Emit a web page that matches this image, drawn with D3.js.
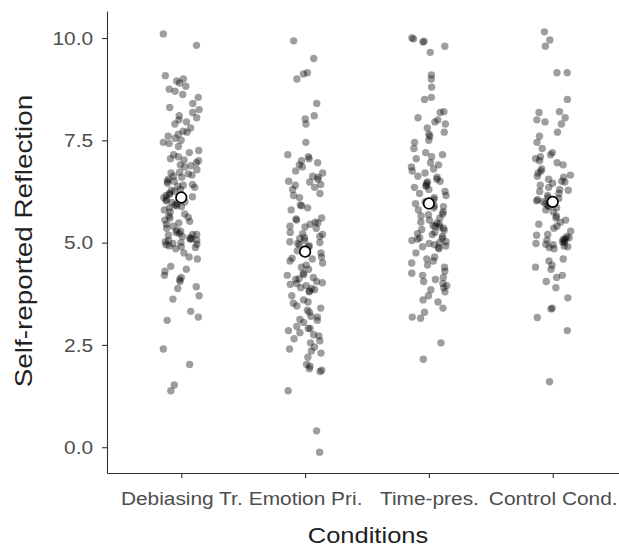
<!DOCTYPE html>
<html>
<head>
<meta charset="utf-8">
<script src="https://cdn.jsdelivr.net/npm/d3@7"></script>
<style>
  body { margin: 0; background: #fff; }
  text { font-family: "Liberation Sans", Arial, sans-serif; }
</style>
</head>
<body>
<div id="chart"></div>
<script>
var conditions = ["Debiasing Tr.", "Emotion Pri.", "Time-pres.", "Control Cond."];

var debiasing = [10.1, 9.82, 9.08, 9.0, 8.95, 8.9, 8.82, 8.75, 8.7, 8.62, 8.55, 8.4, 8.3, 8.25, 8.18, 8.1, 8.05,
  8.0, 7.95, 7.9, 7.8, 7.72, 7.7, 7.65, 7.6, 7.55, 7.5, 7.45, 7.42, 7.35, 7.25, 7.2, 7.15, 7.1, 7.05, 7.02,
  7.0, 6.95, 6.9, 6.88, 6.85, 6.78, 6.72, 6.7, 6.68, 6.65, 6.62, 6.6, 6.55, 6.5, 6.5, 6.45, 6.42, 6.4, 6.38,
  6.35, 6.3, 6.28, 6.25, 6.2, 6.18, 6.15, 6.12, 6.1, 6.05, 6.02, 6.0, 5.98, 5.95, 5.92, 5.9, 5.88, 5.85, 5.8,
  5.75, 5.7, 5.65, 5.62, 5.6, 5.55, 5.52, 5.48, 5.45, 5.4, 5.35, 5.3, 5.28, 5.25, 5.22, 5.2, 5.2, 5.18, 5.15,
  5.12, 5.1, 5.08, 5.06, 5.05, 5.02, 5.0, 4.98, 4.96, 4.95, 4.92, 4.9, 4.88, 4.85, 4.75, 4.65, 4.6, 4.42,
  4.35, 4.3, 4.2, 4.15, 4.1, 4.05, 3.92, 3.88, 3.7, 3.62, 3.32, 3.18, 3.1, 2.4, 2.02, 1.52, 1.38];

var emotion = [9.93, 9.5, 9.15, 9.12, 9.0, 8.4, 8.1, 8.02, 7.9, 7.45, 7.15, 7.1, 7.05, 7.0, 6.95, 6.9, 6.85,
  6.75, 6.7, 6.62, 6.6, 6.55, 6.5, 6.48, 6.42, 6.4, 6.35, 6.3, 6.2, 6.15, 6.1, 3.35, 5.92, 5.9, 5.85, 5.8,
  2.9, 5.6, 5.58, 5.55, 5.5, 5.48, 5.45, 5.4, 5.38, 5.35, 2.75, 5.25, 5.22, 5.2, 5.15, 5.12, 5.1, 5.05, 5.02,
  5.0, 4.98, 4.95, 4.92, 4.9, 4.85, 4.8, 4.75, 4.65, 4.62, 4.6, 4.55, 4.5, 4.45, 4.4, 4.35, 4.25, 4.22, 4.2,
  4.15, 4.12, 4.1, 4.05, 4.02, 4.0, 3.98, 3.95, 3.9, 3.88, 3.85, 3.82, 3.8, 3.7, 3.6, 3.55, 3.52, 3.45, 3.4,
  3.3, 3.2, 3.18, 3.12, 3.1, 3.05, 2.95, 2.9, 2.85, 2.8, 2.72, 2.65, 2.6, 2.55, 2.45, 2.4, 2.35, 2.3, 2.2,
  2.02, 1.98, 1.92, 1.88, 1.85, 1.38, 0.4, -0.12];

var timePres = [10.0, 9.98, 9.92, 9.9, 9.8, 9.65, 9.1, 9.0, 8.8, 8.55, 8.5, 8.2, 8.18, 8.05, 8.0, 7.95, 7.9,
  7.8, 7.7, 7.65, 7.6, 7.5, 7.45, 7.3, 7.2, 7.15, 7.1, 7.05, 6.95, 6.9, 6.85, 6.8, 6.75, 6.7, 6.62, 6.6, 6.55,
  6.5, 6.48, 6.45, 6.4, 6.38, 6.35, 6.3, 3.7, 6.25, 6.2, 6.15, 6.1, 3.55, 6.05, 6.0, 5.98, 5.95, 3.3, 5.9,
  5.88, 5.85, 5.8, 4.15, 5.75, 5.7, 5.68, 5.65, 5.6, 4.1, 5.55, 5.5, 5.48, 5.45, 5.42, 5.4, 5.38, 5.35, 5.32,
  5.3, 5.25, 5.22, 5.2, 5.15, 5.12, 5.1, 5.08, 5.05, 5.02, 5.0, 4.98, 4.95, 4.92, 4.9, 4.88, 4.85, 4.75, 4.65,
  4.6, 4.55, 4.5, 4.45, 4.4, 4.3, 4.25, 4.2, 4.05, 4.0, 3.95, 3.9, 3.85, 3.8, 3.6, 3.4, 3.18, 3.15, 2.55, 2.15];

var control = [10.15, 9.95, 9.8, 9.15, 9.15, 8.5, 8.2, 8.18, 8.05, 8.0, 7.95, 7.9, 7.7, 7.6, 7.45, 7.3, 7.2,
  7.15, 7.1, 7.05, 7.0, 6.95, 6.9, 6.8, 6.75, 6.7, 6.65, 6.62, 6.6, 6.55, 6.5, 6.48, 6.45, 6.4, 6.35, 6.3,
  6.28, 6.25, 6.2, 6.15, 6.1, 6.08, 6.05, 6.02, 6.0, 5.98, 5.95, 5.9, 5.88, 5.85, 5.8, 5.75, 5.65, 5.6, 5.55,
  5.5, 5.45, 5.4, 5.35, 5.28, 5.2, 5.18, 5.15, 5.12, 5.1, 5.08, 5.06, 5.05, 5.02, 5.0, 4.98, 4.96, 4.95, 4.92,
  4.9, 4.88, 4.85, 4.6, 4.55, 4.45, 4.4, 4.35, 4.2, 4.15, 4.05, 3.9, 3.65, 3.4, 3.38, 3.17, 2.85, 1.6];

var groups = [debiasing, emotion, timePres, control];
var yTicks = [0, 2.5, 5, 7.5, 10];

var width = 619, height = 549;
var plotLeft = 107, plotTop = 11, plotBottom = 473;
var stretch = "scale(1.16,1)"; // the reference text is drawn a bit wide

var svg = d3.select("#chart").append("svg")
    .attr("width", width)
    .attr("height", height);

var x = d3.scalePoint()
    .domain(conditions)
    .range([plotLeft, 627])
    .padding(0.6);

var y = d3.scaleLinear()
    .domain([-0.63, 10.66])
    .range([plotBottom, plotTop]);

// horizontal jitter, a fixed hash of the point index so the picture is stable
function jitter(i, g) {
  var s = Math.sin(i * 12.9898 + g * 78.233) * 43758.5453;
  return s - Math.floor(s) - 0.5;
}

var points = [];
groups.forEach(function(vals, g) {
  vals.forEach(function(v, i) {
    points.push({cond: conditions[g], value: v, jit: jitter(i, g)});
  });
});

svg.append("g").selectAll("circle")
    .data(points)
  .enter().append("circle")
    .attr("cx", function(d) { return x(d.cond) + d.jit * 36; })
    .attr("cy", function(d) { return y(d.value); })
    .attr("r", 3.7)
    .style("fill", "#000")
    .style("fill-opacity", 0.38);

// group means
svg.append("g").selectAll("circle")
    .data(groups)
  .enter().append("circle")
    .attr("cx", function(d, i) { return x(conditions[i]); })
    .attr("cy", function(d) { return y(d3.mean(d)); })
    .attr("r", 5.3)
    .style("fill", "#fff")
    .style("stroke", "#000")
    .style("stroke-width", 1.7);

// axes
var yAxis = svg.append("g")
    .attr("transform", "translate(" + plotLeft + ",0)")
    .call(d3.axisLeft(y).tickValues(yTicks).tickFormat(d3.format(".1f")).tickSize(5).tickSizeOuter(0));
var xAxis = svg.append("g")
    .attr("transform", "translate(0," + plotBottom + ")")
    .call(d3.axisBottom(x).tickSize(5).tickSizeOuter(0));

[yAxis, xAxis].forEach(function(a) {
  a.select(".domain").attr("stroke", "#333").attr("stroke-width", 1.1);
  a.selectAll(".tick line").attr("stroke", "#333").attr("stroke-width", 1.1);
  a.selectAll(".tick text").attr("fill", "#4d4d4d").style("font-size", "18px")
    .style("font-family", "'Liberation Sans', Arial, sans-serif")
    .attr("transform", stretch);
});
yAxis.selectAll(".tick text").attr("x", -12).attr("dy", "0.35em");
xAxis.selectAll(".tick text").attr("y", 19).attr("dy", "0.71em");

svg.append("g")
    .attr("transform", "translate(368,543)")
  .append("text")
    .attr("transform", stretch)
    .attr("text-anchor", "middle")
    .style("font-size", "22px")
    .style("fill", "#222")
    .text("Conditions");

svg.append("g")
    .attr("transform", "translate(32,241)")
  .append("text")
    .attr("transform", "rotate(-90) " + stretch)
    .attr("text-anchor", "middle")
    .style("font-size", "24px")
    .style("fill", "#222")
    .text("Self-reported Reflection");
</script>
</body>
</html>
